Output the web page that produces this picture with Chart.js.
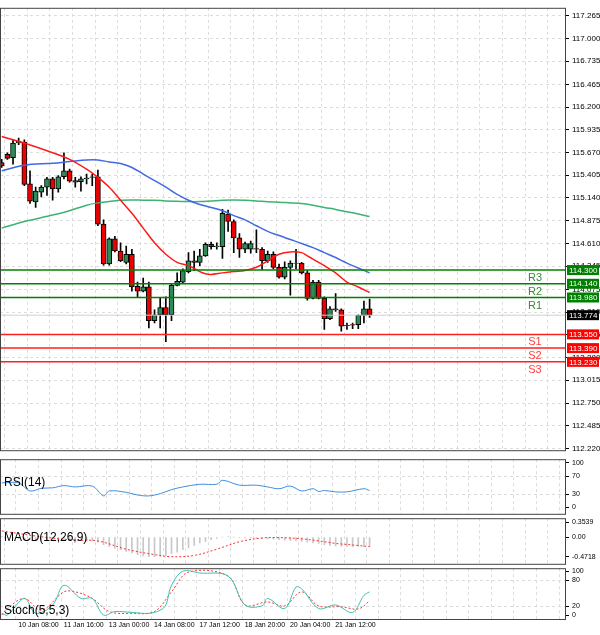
<!DOCTYPE html>
<html><head><meta charset="utf-8">
<script src="https://cdn.jsdelivr.net/npm/chart.js@4"></script>
<style>
body{margin:0;background:#fff;width:600px;height:635px;overflow:hidden;position:relative;font-family:"Liberation Sans",sans-serif}
.p{position:absolute;left:0;width:600px}
canvas{display:block}
</style></head><body>
<div class="p" style="top:0;height:458px"><canvas id="c1"></canvas></div>
<div class="p" style="top:452px;height:69px"><canvas id="c2"></canvas></div>
<div class="p" style="top:511px;height:60px"><canvas id="c3"></canvas></div>
<div class="p" style="top:561px;height:74px"><canvas id="c4"></canvas></div>
<script>
const opens=[115.552,115.648,115.609,115.781,115.793,115.304,115.095,115.209,115.266,115.362,115.247,115.388,115.457,115.343,115.331,115.362,115.381,115.388,114.835,114.370,114.664,114.522,114.389,114.484,114.111,114.053,114.103,113.710,113.779,113.863,113.779,114.122,114.160,114.282,114.408,114.389,114.465,114.599,114.572,114.572,114.953,114.866,114.675,114.542,114.542,114.549,114.542,114.408,114.484,114.332,114.217,114.332,114.378,114.381,114.267,113.970,114.160,113.970,113.733,113.847,113.836,113.657,113.664,113.664,113.771,113.847];
const closes=[115.514,115.602,115.781,115.800,115.297,115.102,115.220,115.266,115.362,115.247,115.388,115.457,115.335,115.323,115.362,115.373,115.388,114.835,114.370,114.664,114.522,114.408,114.484,114.103,114.053,114.103,113.710,113.779,113.863,113.779,114.122,114.168,114.294,114.408,114.389,114.465,114.599,114.572,114.580,114.961,114.866,114.675,114.542,114.610,114.610,114.542,114.408,114.484,114.332,114.217,114.332,114.381,114.381,114.267,113.970,114.160,113.970,113.733,113.847,113.836,113.645,113.653,113.657,113.771,113.847,113.774];
const highs=[115.590,115.667,115.819,115.838,115.819,115.457,115.266,115.285,115.381,115.381,115.400,115.667,115.476,115.381,115.388,115.419,115.419,115.465,114.885,114.675,114.694,114.618,114.580,114.542,114.160,114.206,114.160,113.836,113.970,113.989,114.141,114.267,114.313,114.503,114.522,114.542,114.618,114.625,114.618,115.007,114.999,114.885,114.725,114.625,114.637,114.770,114.561,114.522,114.511,114.370,114.397,114.408,114.542,114.389,114.294,114.179,114.179,113.989,113.874,114.027,113.847,113.683,113.683,113.779,113.939,113.962];
const lows=[115.495,115.590,115.533,115.762,115.285,115.076,115.030,115.152,115.171,115.114,115.209,115.362,115.323,115.266,115.220,115.304,115.285,114.816,114.358,114.358,114.511,114.397,114.370,114.053,113.989,114.046,113.626,113.683,113.626,113.466,113.710,114.114,114.141,114.267,114.294,114.351,114.458,114.542,114.542,114.435,114.751,114.503,114.446,114.503,114.496,114.503,114.305,114.389,114.313,114.206,114.198,114.008,114.313,114.256,113.950,113.962,113.962,113.607,113.722,113.817,113.588,113.607,113.618,113.618,113.683,113.748];
const maIdx=[0,4,9,12,15,17,19,21,23,25,27,29,31,33,35,36,37,39,41,43,45,47,49,51,53,54,55,57,59,61,63,65];
const maFast=[115.857,115.781,115.667,115.590,115.476,115.381,115.266,115.114,114.961,114.789,114.618,114.484,114.389,114.351,114.282,114.256,114.248,114.267,114.282,114.294,114.332,114.408,114.484,114.511,114.503,114.465,114.427,114.351,114.267,114.160,114.103,114.038];
const maMidIdx=[0,4,9,12,15,17,19,21,23,25,27,29,31,33,35,37,39,41,43,45,47,49,51,53,55,57,59,61,63,65];
const maMid=[115.457,115.522,115.545,115.564,115.583,115.583,115.560,115.541,115.495,115.419,115.343,115.266,115.182,115.114,115.064,115.030,114.992,114.934,114.885,114.816,114.751,114.702,114.656,114.610,114.561,114.503,114.446,114.381,114.324,114.267];
const maSlow=[114.789,114.866,114.942,114.992,115.056,115.083,115.098,115.114,115.117,115.114,115.114,115.106,115.102,115.098,115.098,115.106,115.114,115.117,115.114,115.106,115.095,115.091,115.083,115.076,115.056,115.030,115.007,114.980,114.953,114.923];
const resist=[114.300,114.140,113.980], resistNames=["R3","R2","R1"];
const support=[113.550,113.390,113.230], supportNames=["S1","S2","S3"];
const lastPrice=113.774;
const priceTicks=[117.265,117.000,116.735,116.465,116.200,115.935,115.670,115.405,115.140,114.875,114.610,114.345,114.075,113.810,113.545,113.280,113.015,112.750,112.485,112.220];
const rsiIdx=[0,3,5,7,9,11,13,16,18,19,22,24,26,28,30,32,35,38,39,42,45,47,49,51,53,55,56,57,59,61,64,65];
const rsiVal=[55,55,37,43,44,49,46,48,26,37,34,28,26,31,40,46,52,52,61,50,50,46,42,48,37,42,36,38,35,35,42,38];
const macdHist=[0.02,0.0,-0.02,-0.04,-0.05,-0.06,-0.07,-0.07,-0.07,-0.07,-0.07,-0.07,-0.08,-0.08,-0.08,-0.08,-0.09,-0.12,-0.18,-0.22,-0.27,-0.30,-0.34,-0.38,-0.42,-0.45,-0.47,-0.47,-0.46,-0.44,-0.40,-0.36,-0.30,-0.26,-0.20,-0.14,-0.10,-0.06,-0.03,0.0,0.01,0.0,-0.01,-0.02,-0.02,-0.03,-0.03,-0.04,-0.05,-0.06,-0.07,-0.08,-0.09,-0.10,-0.12,-0.14,-0.15,-0.18,-0.20,-0.21,-0.22,-0.22,-0.23,-0.22,-0.22,-0.22];
const macdSigIdx=[0,7,13,17,22,27,30,34,38,42,46,49,53,56,59,63,65];
const macdSig=[0.15,0.01,-0.07,-0.09,-0.29,-0.42,-0.47,-0.44,-0.29,-0.11,-0.02,-0.01,-0.04,-0.09,-0.15,-0.20,-0.23];
const stMainIdx=[0,1,4,6,9,11,14,16,18,20,23,26,28,29,30,32,35,40,43,46,47,50,52,53,56,59,62,64,65];
const stMain=[4,0,38,4,23,68,38,38,0,8,6,4,11,23,68,100,96,89,23,21,38,15,64,60,15,23,6,45,53];
const stSigIdx=[0,1,4,7,11,13,16,19,23,27,30,33,40,43,47,50,53,56,60,63,65];
const stSig=[0,15,38,11,53,53,38,8,4,8,53,98,89,23,30,21,53,21,19,14,32];
const timeLabels=["10 Jan 08:00","11 Jan 16:00","13 Jan 00:00","14 Jan 08:00","17 Jan 12:00","18 Jan 20:00","20 Jan 04:00","21 Jan 12:00"];
const timeIdx=[6.5,14.5,22.5,30.5,38.5,46.5,54.5,62.5];

const XMIN=-0.3,XMAX=99.7;
const pts=(ix,v)=>ix.map((x,i)=>({x,y:v[i]}));
const frame={id:'frame',afterDraw(c){const a=c.chartArea,g=c.ctx;g.save();g.strokeStyle='#444';g.lineWidth=1;g.strokeRect(a.left+0.5,a.top+0.5,a.right-a.left-1,a.bottom-a.top);g.restore();}};
function xScale(show){return {type:'linear',min:XMIN,max:XMAX,offset:false,
  afterBuildTicks(s){const t=[];for(let v=2.5;v<XMAX;v+=4)t.push({value:v});s.ticks=t;},
  ticks:{display:show,autoSkip:false,maxRotation:0,color:'#000',font:{family:"Liberation Sans",size:7},padding:2,
    callback(v){const k=timeIdx.indexOf(v);return k>=0?timeLabels[k]:'';}},
  grid:{color:'#dcdcdc',drawTicks:false,tickLength:0},border:{display:false,dash:[3,3]},
  afterFit(s){if(show)s.height=16;}};}
function yScale(min,max,ticks,fmt,gridVals,fs){return {position:'right',min,max,
  afterBuildTicks(s){s.ticks=ticks.map(v=>({value:v}));},
  ticks:{color:'#000',font:{family:"Liberation Sans",size:fs||8},padding:3,callback:fmt},
  grid:{color:(c)=>(c.tick&&gridVals.includes(c.tick.value))?'#dcdcdc':'rgba(0,0,0,0)',drawTicks:true,tickLength:3,tickColor:'#000'},
  border:{display:false,dash:[3,3]},afterFit(s){s.width=34;}};}
const base={responsive:true,maintainAspectRatio:false,animation:false,events:[],
  plugins:{legend:{display:false},tooltip:{enabled:false}},layout:{padding:{left:0,right:0,top:0,bottom:0}}};

const ds=[];
ds.push({type:'bar',data:opens.map((o,i)=>({x:i,y:[lows[i],highs[i]]})),backgroundColor:'#000',barThickness:1,grouped:false,order:5});
ds.push({type:'bar',data:opens.map((o,i)=>({x:i,y:[o,closes[i]]})),backgroundColor:opens.map((o,i)=>closes[i]>=o?'#2e8b57':'#ee0000'),borderColor:'#000',borderWidth:1,borderSkipped:false,barThickness:5,grouped:false,order:4});
const ln=(d,c,w,o)=>({type:'line',data:d,borderColor:c,borderWidth:w,pointRadius:0,tension:0.35,spanGaps:true,order:o});
ds.push(ln(pts(maIdx,maFast),'#ff1a1a',1.5,2));
ds.push(ln(pts(maMidIdx,maMid),'#4169e1',1.5,2));
ds.push(ln(pts(maMidIdx,maSlow),'#3cb371',1.5,2));
ds.push(ln([{x:XMIN,y:lastPrice},{x:XMAX,y:lastPrice}],'#d0d0d0',1,3));
resist.forEach(v=>ds.push(ln([{x:XMIN,y:v},{x:XMAX,y:v}],'#008000',1.5,1)));
support.forEach(v=>ds.push(ln([{x:XMIN,y:v},{x:XMAX,y:v}],'#ff2020',1.5,1)));
const tags={id:'tags',afterDraw(c){const g=c.ctx,y=c.scales.y,a=c.chartArea;g.save();
  const tag=(v,bg)=>{const p=y.getPixelForValue(v);g.fillStyle=bg;g.fillRect(a.right+1,p-5,32,10);g.fillStyle='#fff';g.font='8px "Liberation Sans"';g.textAlign='left';g.textBaseline='middle';g.fillText(v.toFixed(3),a.right+3,p+0.5);};
  const nm=(v,t,col)=>{const p=y.getPixelForValue(v);g.fillStyle=col;g.font='11px "Liberation Sans"';g.textAlign='center';g.textBaseline='middle';g.fillText(t,535,p+8);};
  resist.forEach((v,i)=>{tag(v,'#008000');nm(v,resistNames[i],'#3a8a3a');});
  support.forEach((v,i)=>{tag(v,'#ff0000');nm(v,supportNames[i],'#ff4040');});
  tag(lastPrice,'#000');g.restore();}};
new Chart(document.getElementById('c1'),{data:{datasets:ds},plugins:[frame,tags],options:{...base,layout:{padding:{top:4,bottom:2}},
  scales:{x:xScale(false),y:yScale(112.20,117.357,priceTicks,v=>v.toFixed(3),priceTicks)}}});

const txt=(t,y)=>({id:'t'+t,afterDraw(c){const g=c.ctx;g.save();g.fillStyle='#000';g.font='12px "Liberation Sans"';g.textBaseline='middle';g.fillText(t,4,y);g.restore();}});
new Chart(document.getElementById('c2'),{data:{datasets:[ln(pts(rsiIdx,rsiVal),'#3d8fe0',1,1)]},plugins:[frame,txt('RSI(14)',31)],
  options:{...base,scales:{x:xScale(false),y:yScale(-14,108,[0,30,70,100],v=>String(v),[30,70],7)}}});
new Chart(document.getElementById('c3'),{data:{datasets:[
  {type:'bar',data:macdHist.map((v,i)=>({x:i,y:v})),backgroundColor:'#c8c8c8',barThickness:1,order:2},
  {...ln(pts(macdSigIdx,macdSig),'#ff3030',1,1),borderDash:[2,2]}]},plugins:[frame,txt('MACD(12,26,9)',27)],
  options:{...base,scales:{x:xScale(false),y:yScale(-0.641,0.457,[0.3539,0,-0.4718],v=>v===0?'0.00':String(v),[],7)}}});
new Chart(document.getElementById('c4'),{data:{datasets:[
  ln(pts(stMainIdx,stMain),'#40c0b0',1,1),
  {...ln(pts(stSigIdx,stSig),'#ff3030',1,2),borderDash:[2,2]}]},plugins:[frame,txt('Stoch(5,5,3)',50)],
  options:{...base,scales:{x:xScale(true),y:yScale(-9,107,[0,20,80,100],v=>String(v),[20,80],7)}}});
</script></body></html>
